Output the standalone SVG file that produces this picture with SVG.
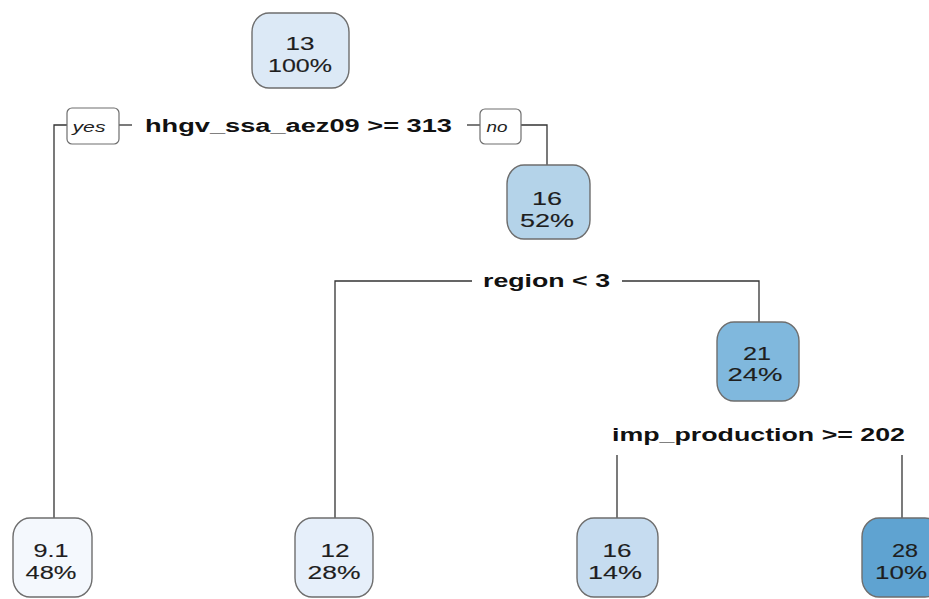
<svg xmlns="http://www.w3.org/2000/svg" width="929" height="599" viewBox="0 0 929 599">
  <defs>
    <style>
      .node rect { stroke: #6e6e6e; stroke-width: 1.4; }
      .node text { font-family: "Liberation Sans", Arial, sans-serif; font-size: 17.5px; fill: #1e1e1e; stroke: #1e1e1e; stroke-width: 0.12; text-anchor: middle; }
      .split { font-family: "Liberation Sans", Arial, sans-serif; font-size: 18px; font-weight: bold; fill: #111; text-anchor: middle; }
      .tag rect { fill: #fff; stroke: #6e6e6e; stroke-width: 1.2; }
      .tag text { font-family: "Liberation Sans", Arial, sans-serif; font-size: 14px; font-style: italic; fill: #222; text-anchor: middle; }
      .edges { fill: none; stroke: #333; stroke-width: 1.3; }
    </style>
  </defs>
  <rect width="929" height="599" fill="#ffffff"/>

  <!-- connectors -->
  <g id="connectors" class="edges">
    <polyline points="67,125 54,125 54,518"/>
    <line x1="119" y1="125" x2="132" y2="125"/>
    <line x1="467" y1="125" x2="480" y2="125"/>
    <polyline points="521,125 547,125 547,165"/>
    <polyline points="472,281 335,281 335,518"/>
    <polyline points="622,281 759,281 759,322"/>
    <line x1="617" y1="455" x2="617" y2="518"/>
    <line x1="902" y1="455" x2="902" y2="518"/>
  </g>

  <!-- yes / no tags -->
  <g id="tag-yes" class="tag">
    <rect x="67" y="108" width="52" height="36" rx="5" ry="5"/>
    <text x="89" y="132" textLength="33" lengthAdjust="spacingAndGlyphs">yes</text>
  </g>
  <g id="tag-no" class="tag">
    <rect x="480" y="109" width="41" height="35" rx="5" ry="5"/>
    <text x="497" y="132" textLength="21" lengthAdjust="spacingAndGlyphs">no</text>
  </g>

  <!-- split labels -->
  <text id="split-1" class="split" x="298.5" y="132" textLength="307" lengthAdjust="spacingAndGlyphs">hhgv_ssa_aez09 &gt;= 313</text>
  <text id="split-2" class="split" x="546.5" y="287" textLength="127" lengthAdjust="spacingAndGlyphs">region &lt; 3</text>
  <text id="split-3" class="split" x="758.5" y="441" textLength="293" lengthAdjust="spacingAndGlyphs">imp_production &gt;= 202</text>

  <!-- nodes -->
  <g id="node-root" class="node">
    <rect x="252" y="13" width="97" height="75" rx="17" ry="19" fill="#dce9f6"/>
    <text x="300" y="50" textLength="29" lengthAdjust="spacingAndGlyphs">13</text>
    <text x="300" y="72" textLength="64" lengthAdjust="spacingAndGlyphs">100%</text>
  </g>
  <g id="node-16a" class="node">
    <rect x="507" y="165" width="83" height="74" rx="17" ry="19" fill="#b4d3e9"/>
    <text x="547" y="205" textLength="30" lengthAdjust="spacingAndGlyphs">16</text>
    <text x="547" y="227" textLength="54" lengthAdjust="spacingAndGlyphs">52%</text>
  </g>
  <g id="node-21" class="node">
    <rect x="717" y="322" width="82" height="79" rx="17" ry="19" fill="#80b8dd"/>
    <text x="757" y="360" textLength="28" lengthAdjust="spacingAndGlyphs">21</text>
    <text x="755" y="381" textLength="55" lengthAdjust="spacingAndGlyphs">24%</text>
  </g>
  <g id="node-9-1" class="node">
    <rect x="13" y="518" width="79" height="79" rx="17" ry="19" fill="#f4f8fd"/>
    <text x="51" y="557" textLength="35" lengthAdjust="spacingAndGlyphs">9.1</text>
    <text x="51" y="579" textLength="51" lengthAdjust="spacingAndGlyphs">48%</text>
  </g>
  <g id="node-12" class="node">
    <rect x="295" y="518" width="78" height="79" rx="17" ry="19" fill="#e6effa"/>
    <text x="335" y="557" textLength="29" lengthAdjust="spacingAndGlyphs">12</text>
    <text x="334" y="579" textLength="53" lengthAdjust="spacingAndGlyphs">28%</text>
  </g>
  <g id="node-16b" class="node">
    <rect x="577" y="518" width="81" height="79" rx="17" ry="19" fill="#c6dcf0"/>
    <text x="617" y="557" textLength="29" lengthAdjust="spacingAndGlyphs">16</text>
    <text x="615" y="579" textLength="54" lengthAdjust="spacingAndGlyphs">14%</text>
  </g>
  <g id="node-28" class="node">
    <rect x="862" y="518" width="80" height="79" rx="17" ry="19" fill="#5fa3d1"/>
    <text x="905" y="557" textLength="26" lengthAdjust="spacingAndGlyphs">28</text>
    <text x="901" y="579" textLength="52" lengthAdjust="spacingAndGlyphs">10%</text>
  </g>
</svg>
